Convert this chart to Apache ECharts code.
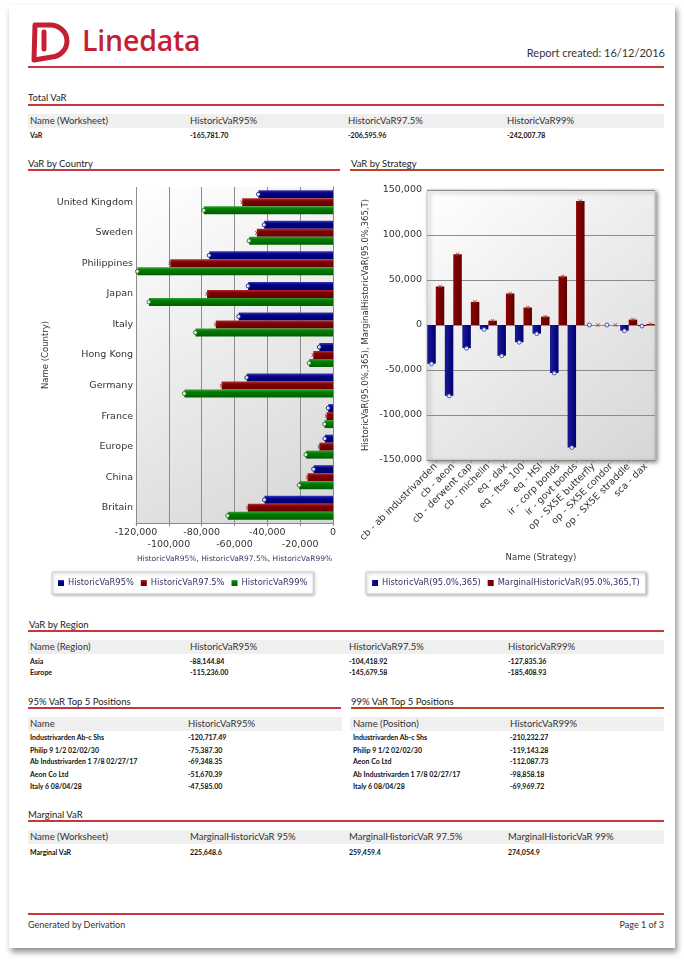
<!DOCTYPE html>
<html><head><meta charset="utf-8">
<script src="https://cdn.jsdelivr.net/npm/echarts@6/dist/echarts.min.js"></script>
<style>
html,body{margin:0;padding:0;background:#fff;width:684px;height:963px;overflow:hidden;font-family:Lato,'Open Sans',sans-serif;color:#222;}
#page{position:absolute;left:9px;top:5px;width:666px;height:943px;background:#fff;box-shadow:2px 4px 6px rgba(0,0,0,0.45);}
.t{position:absolute;white-space:nowrap;line-height:12px;height:12px;}
.ttl{font-size:9.5px;color:#222;}
.th{font-size:9.5px;color:#333;}
.td{font-size:7px;font-weight:bold;color:#111;}
.ln{position:absolute;height:2px;background:#c8363f;}
.ln.br{background:#b5471d;}
.hdr{position:absolute;background:#efefef;}
#chart{position:absolute;left:0;top:0;width:684px;height:963px;}
</style></head>
<body>
<div id="page"></div>
<div id="content"></div>
<div id="chart"></div>
<script>
// ---------- data ----------
const countries = ['Britain','China','Europe','France','Germany','Hong Kong','Italy','Japan','Philippines','Sweden','United Kingdom'];
const countryVar95  = [-41700,-11800,-4900,-2900,-52500,-8300,-57400,-51670,-75390,-41900,-45400];
const countryVar975 = [-51900,-15500,-8300,-3900,-67800,-12000,-71400,-76700,-99100,-46400,-55300];
const countryVar99  = [-64100,-20600,-16500,-5100,-90500,-14500,-83800,-112090,-119140,-51100,-78700];
const countryTicks  = {min:-120000, max:0, step:20000};
const countryLabelsRow1 = [-120000, -80000, -40000, 0];
const countryLabelsRow2 = [-100000, -60000, -20000];

const strategies = ['cb - ab industrivarden','cb - aeon','cb - derwent cap','cb - michelin','eq - dax','eq - ftse 100','eq - HSI','ir - corp bonds','ir - govt bonds','op - SX5E butterfly','op - SX5E condor','op - SX5E straddle','sca - dax'];
const stratHVaR  = [-43000,-78700,-25700,-4800,-34200,-19100,-9600,-53300,-136000,0,0,-6300,-1100];
const stratMHVaR = [42800,78600,25700,4800,35000,19400,9300,54000,137700,0,0,6000,1100];
const stratTicks = {min:-150000, max:150000, step:50000};

const totalHeaders = ['Name (Worksheet)','HistoricVaR95%','HistoricVaR97.5%','HistoricVaR99%'];
const totalRows = [['VaR','-165,781.70','-206,595.96','-242,007.78']];
const regionHeaders = ['Name (Region)','HistoricVaR95%','HistoricVaR97.5%','HistoricVaR99%'];
const regionRows = [['Asia','-88,144.84','-104,418.92','-127,835.36'],['Europe','-115,236.00','-145,679.58','-185,408.93']];
const top95Headers = ['Name','HistoricVaR95%'];
const top95Rows = [['Industrivarden Ab-c Shs','-120,717.49'],['Philip 9 1/2 02/02/30','-75,387.30'],['Ab Industrivarden 1 7/8 02/27/17','-69,348.35'],['Aeon Co Ltd','-51,670.39'],['Italy 6 08/04/28','-47,585.00']];
const top99Headers = ['Name (Position)','HistoricVaR99%'];
const top99Rows = [['Industrivarden Ab-c Shs','-210,232.27'],['Philip 9 1/2 02/02/30','-119,143.28'],['Aeon Co Ltd','-112,087.73'],['Ab Industrivarden 1 7/8 02/27/17','-98,858.18'],['Italy 6 08/04/28','-69,969.72']];
const margHeaders = ['Name (Worksheet)','MarginalHistoricVaR 95%','MarginalHistoricVaR 97.5%','MarginalHistoricVaR 99%'];
const margRows = [['Marginal VaR','225,648.6','259,459.4','274,054.9']];

// ---------- report layout (HTML text) ----------
const C = document.getElementById('content');
function txt(s, x, cy, cls, right){
  const d = document.createElement('div');
  d.className = 't ' + cls; d.textContent = s;
  d.style.top = (cy - 6) + 'px';
  if (right) { d.style.right = (684 - x) + 'px'; } else { d.style.left = x + 'px'; }
  C.appendChild(d); return d;
}
function line(x1, x2, y, brown){
  const d = document.createElement('div'); d.className = 'ln' + (brown ? ' br' : '');
  d.style.left = x1 + 'px'; d.style.width = (x2 - x1) + 'px'; d.style.top = (y - 1) + 'px';
  C.appendChild(d);
}
function hdr(x1, x2, y1, y2){
  const d = document.createElement('div'); d.className = 'hdr';
  d.style.left = x1 + 'px'; d.style.width = (x2 - x1) + 'px'; d.style.top = y1 + 'px'; d.style.height = (y2 - y1) + 'px';
  C.appendChild(d);
}
function table(headers, rows, cols, x1, x2, hy1, hy2, rowYs){
  hdr(x1, x2, hy1, hy2);
  headers.forEach((h, i) => txt(h, cols[i], (hy1 + hy2) / 2, 'th'));
  rows.forEach((r, j) => r.forEach((c, i) => txt(c, cols[i], rowYs[j], 'td')));
}

// header
C.insertAdjacentHTML('beforeend',
 '<svg style="position:absolute;left:29px;top:21px" width="44" height="43" viewBox="0 0 44 43">' +
 '<path d="M6 4 H21 A17 16 0 0 1 38 20 A17 16 0 0 1 23 36 L5 39 Z" fill="none" stroke="#c41f33" stroke-width="5" stroke-linejoin="round"/>' +
 '<path d="M15 11 V28" stroke="#c41f33" stroke-width="5" stroke-linecap="round"/></svg>' +
 '<div style="position:absolute;left:82px;top:22px;font-family:\'Open Sans\',sans-serif;font-weight:600;font-size:28.5px;line-height:36px;color:#c41f33;letter-spacing:-0.2px">Linedata</div>');
txt('Report created: 16/12/2016', 665, 52.5, 'th', true).style.fontSize = '11px';
line(28, 664, 67);

txt('Total VaR', 28, 98, 'ttl'); line(28, 664, 104.5);
table(totalHeaders, totalRows, [30, 190, 348, 507], 28, 664, 114, 128, [135]);

txt('VaR by Country', 28, 164, 'ttl'); line(28, 340, 169.5);
txt('VaR by Strategy', 351, 164, 'ttl'); line(350, 664, 169.5, true);

txt('VaR by Region', 29, 625, 'ttl'); line(28, 664, 631);
table(regionHeaders, regionRows, [30, 190, 349, 508], 28, 664, 640, 654, [660.5, 672]);

txt('95% VaR Top 5 Positions', 28, 702, 'ttl'); line(28, 341, 708);
txt('99% VaR Top 5 Positions', 351, 702, 'ttl'); line(351, 664, 708, true);
const topYs = [737, 750, 761, 774, 786];
table(top95Headers, top95Rows, [30, 188], 28, 342, 717, 731, topYs);
table(top99Headers, top99Rows, [353, 510], 350, 664, 717, 731, topYs);

txt('Marginal VaR', 28, 815, 'ttl'); line(28, 664, 821);
table(margHeaders, margRows, [30, 190, 349, 508], 28, 664, 830, 844, [852]);

line(28, 664, 914);
txt('Generated by Derivation', 28, 925, 'th').style.fontSize = '9px';
txt('Page 1 of 3', 664, 925, 'th', true).style.fontSize = '9px';

// ---------- charts ----------
const chart = echarts.init(document.getElementById('chart'), null, {renderer: 'canvas'});
const fmt = v => Number(v).toLocaleString('en-US');
const G = echarts.graphic.LinearGradient;
const plotBg = new G(0, 0, 1, 1, [{offset: 0, color: '#ffffff'}, {offset: 1, color: '#d6d6d6'}]);
const plotBg2 = new G(0, 0, 1, 1, [{offset: 0, color: '#ffffff'}, {offset: 1, color: '#d6d6d6'}]);
const vgrad = (a, b, c) => new G(0, 0, 0, 1, [{offset: 0, color: a}, {offset: 0.35, color: b}, {offset: 1, color: c}]);
const hgrad = (a, b) => new G(0, 0, 1, 0, [{offset: 0, color: a}, {offset: 1, color: b}]);
const FF = 'DejaVu Sans';
const axisTxt = {fontFamily: FF, fontSize: 9.5, color: '#333'};
const nameTxt = {fontFamily: FF, fontSize: 8.5, color: '#333'};
const xMark = 'path://M0,1.5L1.5,0L5,3.5L8.5,0L10,1.5L6.5,5L10,8.5L8.5,10L5,6.5L1.5,10L0,8.5L3.5,5Z';

function markers(vals, cats, horiz, color, symbol, offset, size){
  return {
    type: 'scatter', silent: true, z: 5,
    xAxisIndex: horiz ? 0 : 1, yAxisIndex: horiz ? 0 : 1,
    data: vals.map((v, i) => horiz ? [v, cats[i]] : [cats[i], v]),
    symbol: symbol, symbolSize: size, symbolOffset: offset,
    itemStyle: symbol === 'circle' ? {color: '#fff', borderColor: color, borderWidth: 1} : {color: color}
  };
}

const legendBase = {
  orient: 'horizontal', icon: 'rect', itemWidth: 6, itemHeight: 6, selectedMode: false,
  padding: [7, 6, 7, 6], backgroundColor: '#fff', borderColor: '#d0d0d0', borderWidth: 1,
  shadowBlur: 3, shadowColor: 'rgba(0,0,0,0.3)', shadowOffsetX: 1, shadowOffsetY: 1,
  textStyle: {fontFamily: FF, fontSize: 8.3, color: '#333366', padding: [0, 0, 0, -1]}
};

// country value axis: labels staggered over two rows
const countryAxisBase = {gridIndex: 0, type: 'value', min: countryTicks.min, max: countryTicks.max, interval: countryTicks.step, position: 'bottom'};

chart.setOption({
  animation: false,
  grid: [
    {left: 136, top: 187, width: 197, height: 336, show: true, backgroundColor: plotBg, borderWidth: 0},
    {left: 427, top: 190, width: 228, height: 270, show: true, backgroundColor: plotBg2, borderColor: '#c8c8c8', borderWidth: 1,
     shadowBlur: 4, shadowColor: 'rgba(0,0,0,0.45)', shadowOffsetX: 2, shadowOffsetY: 2}
  ],
  legend: [
    Object.assign({}, legendBase, {left: 52, top: 572, itemGap: 7, data: ['HistoricVaR95%', 'HistoricVaR97.5%', 'HistoricVaR99%']}),
    Object.assign({}, legendBase, {left: 366, top: 572, itemGap: 7, data: ['HistoricVaR(95.0%,365)', 'MarginalHistoricVaR(95.0%,365,T)']})
  ],
  xAxis: [
    Object.assign({}, countryAxisBase, {
     axisLine: {show: true, onZero: false, lineStyle: {color: '#888'}},
     axisTick: {show: true, length: 3, lineStyle: {color: '#888'}},
     axisLabel: Object.assign({}, axisTxt, {margin: 5, customValues: countryLabelsRow1, showMinLabel: true, showMaxLabel: true, hideOverlap: false,
       formatter: v => fmt(v)}),
     splitLine: {show: true, lineStyle: {color: '#8c8c8c'}},
     name: 'HistoricVaR95%, HistoricVaR97.5%, HistoricVaR99%', nameLocation: 'middle', nameGap: 32,
     nameTextStyle: {fontFamily: FF, fontSize: 7.5, color: '#3a3a6a'}}),
    {gridIndex: 1, type: 'category', data: strategies, position: 'bottom',
     axisLine: {show: true, onZero: false, lineStyle: {color: '#888'}},
     axisTick: {show: true, alignWithLabel: true, length: 3, lineStyle: {color: '#888'}},
     axisLabel: Object.assign({}, axisTxt, {interval: 0, rotate: 45, margin: 5}),
     name: 'Name (Strategy)', nameLocation: 'middle', nameGap: 93, nameTextStyle: nameTxt},
    Object.assign({}, countryAxisBase, {offset: 12,
     axisLine: {show: false}, axisTick: {show: false}, splitLine: {show: false},
     axisLabel: Object.assign({}, axisTxt, {margin: 5, customValues: countryLabelsRow2, showMinLabel: true, showMaxLabel: true, hideOverlap: false,
       formatter: v => fmt(v)})})
  ],
  yAxis: [
    {gridIndex: 0, type: 'category', data: countries,
     axisLine: {show: true, lineStyle: {color: '#888'}},
     axisTick: {show: true, alignWithLabel: true, length: 3, lineStyle: {color: '#888'}},
     axisLabel: Object.assign({}, axisTxt, {interval: 0, margin: 3}),
     name: 'Name (Country)', nameLocation: 'middle', nameGap: 86, nameRotate: 90, nameTextStyle: nameTxt},
    {gridIndex: 1, type: 'value', min: stratTicks.min, max: stratTicks.max, interval: stratTicks.step,
     axisLine: {show: false}, axisTick: {show: false},
     axisLabel: Object.assign({}, axisTxt, {margin: 5, showMinLabel: true, showMaxLabel: true, formatter: v => fmt(v)}),
     splitLine: {show: true, lineStyle: {color: '#8c8c8c'}},
     name: 'HistoricVaR(95.0%,365), MarginalHistoricVaR(95.0%,365,T)', nameLocation: 'middle', nameGap: 57, nameRotate: 90, nameTextStyle: nameTxt}
  ],
  series: [
    {type: 'bar', name: 'HistoricVaR95%', xAxisIndex: 0, yAxisIndex: 0, data: countryVar95, barWidth: 8, barGap: '0%',
     itemStyle: {color: vgrad('#3a3ab0', '#000088', '#00006a')}},
    {type: 'bar', name: 'HistoricVaR97.5%', xAxisIndex: 0, yAxisIndex: 0, data: countryVar975, barWidth: 8, barGap: '0%',
     itemStyle: {color: vgrad('#a83030', '#800000', '#660000')}},
    {type: 'bar', name: 'HistoricVaR99%', xAxisIndex: 0, yAxisIndex: 0, data: countryVar99, barWidth: 8, barGap: '0%',
     itemStyle: {color: vgrad('#30a030', '#007a00', '#005f00')}},
    markers(countryVar95, countries, true, '#000080', 'circle', [0, -8], 4),
    markers(countryVar975, countries, true, '#a02020', xMark, [0, 0], 4),
    markers(countryVar99, countries, true, '#006400', 'circle', [0, 8], 4),
    {type: 'bar', name: 'HistoricVaR(95.0%,365)', xAxisIndex: 1, yAxisIndex: 1, data: stratHVaR, barWidth: 8.5, barGap: '0%',
     itemStyle: {color: hgrad('#1a1a9a', '#000070')}},
    {type: 'bar', name: 'MarginalHistoricVaR(95.0%,365,T)', xAxisIndex: 1, yAxisIndex: 1, data: stratMHVaR, barWidth: 8.5, barGap: '0%',
     itemStyle: {color: hgrad('#8e0000', '#5e0000')}},
    markers(stratHVaR, strategies, false, '#2a2aa0', 'circle', [-4.25, 0], 4),
    markers(stratMHVaR, strategies, false, '#b03030', xMark, [4.25, 0], 4)
  ]
});
</script>
</body></html>
